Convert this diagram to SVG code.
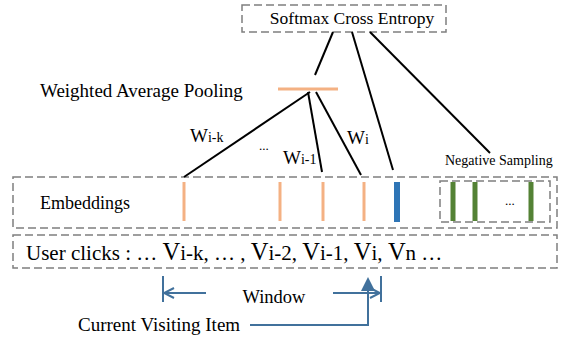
<svg xmlns="http://www.w3.org/2000/svg" width="564" height="341" viewBox="0 0 564 341" font-family="'Liberation Serif','DejaVu Serif',serif">
<defs>
<style>
text{font-family:'Liberation Serif','DejaVu Serif',serif;fill:#000}
.box{fill:none;stroke:#7f7f7f;stroke-width:1.5;stroke-dasharray:8 4}
.ln{stroke:#000;stroke-width:2;fill:none}
.bl{stroke:#41719C;stroke-width:2;fill:none}
.or{stroke:#F4B183;stroke-width:3}
.gr{stroke:#548235;stroke-width:5}
.v{font-size:24.5px}
.s{font-size:14px}
</style>
<marker id="open" viewBox="0 0 12 12" refX="11" refY="6" markerWidth="12" markerHeight="12" markerUnits="userSpaceOnUse" orient="auto">
<path d="M1,1 L11,6 L1,11" fill="none" stroke="#41719C" stroke-width="2"/>
</marker>
<marker id="tri" viewBox="0 0 12 12" refX="6" refY="6" markerWidth="14" markerHeight="14" markerUnits="userSpaceOnUse" orient="auto">
<path d="M0,0 L12,6 L0,12 Z" fill="#41719C"/>
</marker>
</defs>
<g id="softmax">
<rect class="box" x="242" y="5" width="204" height="27"/>
<text x="352" y="24" font-size="17.5" text-anchor="middle">Softmax Cross Entropy</text>
</g>
<g id="pooling">
<text x="40" y="97" font-size="19">Weighted Average Pooling</text>
<line class="or" x1="278" y1="89" x2="338" y2="89"/>
</g>
<g id="embeddings">
<rect class="box" x="13" y="177" width="544" height="51"/>
<text x="40" y="209" font-size="18">Embeddings</text>
<line class="or" x1="184" y1="182" x2="184" y2="221"/>
<line class="or" x1="280" y1="182" x2="280" y2="221"/>
<line class="or" x1="323" y1="182" x2="323" y2="221"/>
<line class="or" x1="364" y1="182" x2="364" y2="221"/>
<line stroke="#2E75B6" stroke-width="6" x1="397" y1="182" x2="397" y2="222"/>
</g>
<g id="negative">
<text x="445" y="165" font-size="14">Negative Sampling</text>
<rect class="box" x="440" y="181" width="110" height="41"/>
<line class="gr" x1="453" y1="182" x2="453" y2="221"/>
<line class="gr" x1="475" y1="182" x2="475" y2="221"/>
<line class="gr" x1="531" y1="182" x2="531" y2="221"/>
<text x="505" y="205" font-size="13">...</text>
</g>
<g id="clicks">
<rect class="box" x="13" y="235" width="544" height="33"/>
<text x="26" y="260" font-size="21">User clicks :  … <tspan class="v">V</tspan>i-k, … , <tspan class="v">V</tspan>i-2, <tspan class="v">V</tspan>i-1, <tspan class="v">V</tspan>i, <tspan class="v">V</tspan>n …</text>
</g>
<g id="window">
<line class="bl" x1="163" y1="276" x2="163" y2="302"/>
<line class="bl" x1="381" y1="276" x2="381" y2="302"/>
<line class="bl" x1="206" y1="293" x2="164" y2="293" marker-end="url(#open)"/>
<line class="bl" x1="333" y1="293" x2="380" y2="293" marker-end="url(#open)"/>
<text x="274" y="303" font-size="18.5" text-anchor="middle">Window</text>
</g>
<g id="current">
<text x="78" y="331" font-size="19">Current Visiting Item</text>
<polyline class="bl" points="250,325 368,325 368,284" marker-end="url(#tri)"/>
</g>
<g id="connectors">
<line class="ln" x1="333" y1="32" x2="315" y2="75"/>
<line class="ln" x1="352" y1="32" x2="393" y2="170"/>
<line class="ln" x1="370" y1="32" x2="490" y2="153"/>
<line class="ln" x1="310" y1="92" x2="184" y2="177"/>
<line class="ln" x1="308" y1="92" x2="322" y2="172"/>
<line class="ln" x1="316" y1="92" x2="361" y2="175"/>
<text x="190" y="142" font-size="19">W<tspan class="s">i-k</tspan></text>
<text x="259" y="150" font-size="13">...</text>
<text x="283" y="164" font-size="19">W<tspan class="s">i-1</tspan></text>
<text x="347" y="144" font-size="19">W<tspan class="s">i</tspan></text>
</g>
</svg>
